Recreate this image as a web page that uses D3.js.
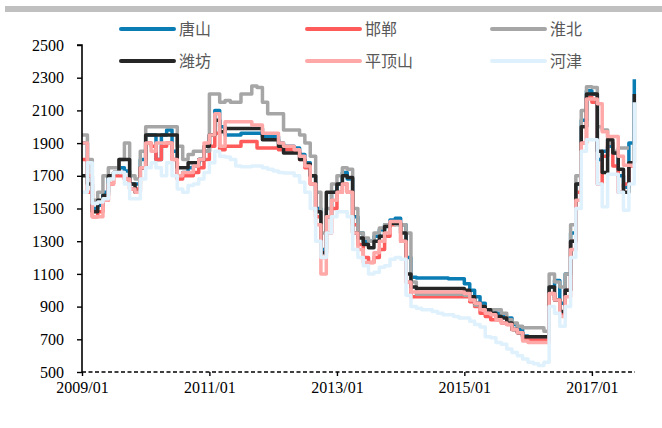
<!DOCTYPE html>
<html>
<head>
<meta charset="utf-8">
<script src="https://cdn.jsdelivr.net/npm/d3@7"></script>
<style>
  body { margin: 0; background: #fff; }
  svg { display: block; }
</style>
</head>
<body>
<div id="chart"></div>
<script>
'use strict';

// monthly prices, first value = 2009/01
const firstMonth = '2009-01';
const seriesNames = ['唐山', '邯郸', '淮北', '潍坊', '平顶山', '河津'];
const seriesColors = ['#0b7db5', '#ff5b5b', '#a6a6a6', '#262626', '#ffa8a8', '#dff1fc'];

const tangshan = [
  1900, 1700, 1500, 1520, 1600, 1700, 1720, 1750, 1730, 1650, 1650, 1800,
  1950, 1950, 1800, 1950, 1980, 1850, 1700, 1720, 1750, 1760, 1800, 1850,
  1950, 2100, 2000, 1950, 1950, 1950, 1960, 1960, 1960, 1960, 1940, 1940,
  1940, 1900, 1880, 1880, 1870, 1830, 1780, 1700, 1500, 1250, 1450, 1600,
  1650, 1720, 1680, 1450, 1350, 1300, 1300, 1330, 1370, 1400, 1430, 1440,
  1400, 1200, 1080, 1075, 1075, 1075, 1075, 1075, 1075, 1070, 1070, 1070,
  1040, 1000, 960, 920, 880, 880, 860, 840, 830, 790, 760, 720,
  715, 715, 715, 715, 1020, 1060, 920, 1100, 1350, 1650, 2040, 2220,
  2200, 1800, 1850, 1880, 1840, 1700, 1630, 1900, 2290
];
const handan = [
  1800, 1600, 1450, 1480, 1550, 1650, 1700, 1700, 1680, 1620, 1620, 1750,
  1900, 1880, 1800, 1880, 1900, 1800, 1680, 1700, 1700, 1720, 1750, 1800,
  1880, 1960, 1860, 1880, 1880, 1880, 1910, 1910, 1910, 1870, 1870, 1870,
  1870, 1860, 1860, 1860, 1850, 1800, 1750, 1650, 1450, 1200, 1350, 1500,
  1600, 1650, 1600, 1400, 1280, 1200, 1170, 1200, 1250, 1330, 1400, 1410,
  1300, 1050, 960, 960, 960, 960, 960, 960, 960, 960, 960, 960,
  960, 930, 900, 860, 840, 820, 820, 800, 790, 760, 740, 700,
  695, 695, 695, 695, 980, 940, 860, 1000, 1300, 1600, 1900, 2180,
  2150, 1650, 1820, 1900, 1760, 1600, 1650, 1760, 1760
];
const huaibei = [
  1950, 1800, 1550, 1600, 1700, 1750, 1750, 1800, 1900, 1700, 1680, 1850,
  2000, 2000, 2000, 2000, 2000, 2000, 1880, 1800, 1830, 1850, 1850, 1850,
  2200, 2200, 2150, 2160, 2150, 2150, 2200, 2200, 2250, 2240, 2150, 2080,
  2080, 2080, 1980, 1980, 1980, 1950, 1900, 1820, 1600, 1350, 1500, 1650,
  1700, 1750, 1740, 1500, 1350, 1320, 1300, 1350, 1380, 1400, 1410, 1400,
  1400, 1350, 1050, 975, 975, 975, 975, 975, 975, 975, 975, 975,
  970, 950, 910, 900, 880, 880, 880, 860, 820, 800, 780, 770,
  770, 770, 770, 750, 1100, 1050, 1020, 1100, 1400, 1700, 2100, 2245,
  2240, 2000, 1980, 1900, 1850, 1870, 1870, 1870, null
];
const weifang = [
  1700, 1650, 1480, 1550, 1580, 1700, 1720, 1800, 1800, 1650, 1600, 1750,
  1950, 1950, 1950, 1950, 1950, 1950, 1750, 1750, 1780, 1780, 1800, 1880,
  1950, 2040, 1970, 1990, 1990, 1990, 1990, 1990, 1990, 1990, 1920, 1920,
  1920, 1880, 1840, 1840, 1840, 1800, 1770, 1700, 1480, 1230, 1600, 1600,
  1650, 1700, 1690, 1350, 1320, 1280, 1260, 1300, 1330, 1390, 1410, 1410,
  1350, 1100, 1020, 1010, 1010, 1010, 1010, 1010, 1010, 1010, 1010, 1010,
  1000, 960, 920, 900, 880, 860, 840, 830, 800, 760, 740, 715,
  715, 715, 715, 715, 1020, 940, 870, 1000, 1300, 1650, 2000, 2200,
  2200, 1850, 1720, 1920, 1840, 1740, 1600, 1780, 2200
];
const pingdingshan = [
  1900, 1700, 1450, 1450, 1550, 1650, 1720, 1720, 1680, 1620, 1600, 1750,
  1900, 1850, 1900, 1900, 1900, 1800, 1700, 1720, 1720, 1760, 1800, 1900,
  1950, 2080, 1880, 2030, 2030, 2030, 2030, 2030, 2010, 2010, 1960, 1960,
  1960, 1900, 1880, 1880, 1860, 1820, 1760, 1650, 1400, 1100, 1450, 1550,
  1600, 1650, 1600, 1350, 1250, 1170, 1170, 1230, 1300, 1350, 1420, 1420,
  1300, 1050, 990, 990, 990, 990, 990, 990, 990, 990, 990, 990,
  980, 940, 920, 880, 860, 850, 820, 800, 790, 760, 740, 690,
  680, 680, 680, 680, 980, 940, 840, 960, 1250, 1550, 1900, 2170,
  2170, 2140, 1970, 1940, 1940, 1820, 1765, 1765, 1765
];
const hejin = [
  1600, 1780, 1530, 1540, 1560, 1680, 1720, 1720, 1650, 1560, 1560, 1680,
  1750, 1780, 1750, 1700, 1780, 1700, 1620, 1600, 1640, 1650, 1680, 1720,
  1780, 1850, 1820, 1815, 1800, 1760, 1755, 1755, 1760, 1760, 1750, 1740,
  1730, 1720, 1717, 1717, 1700, 1660, 1600, 1500, 1300, 1200, 1350, 1450,
  1480, 1480, 1450, 1250, 1200, 1150, 1100, 1110, 1140, 1150, 1190, 1200,
  1190, 970, 900, 890, 880, 880, 870, 860, 850, 850, 840, 830,
  830, 810, 790, 775, 715, 710, 680, 670, 640, 620, 600, 580,
  560, 550, 540, 560, 900, 860, 780, 900, 1200, 1500, 1850, 1920,
  1920, 1650, 1510, 1710, 1710, 1600, 1490, 1650, 2150
];
const seriesValues = [tangshan, handan, huaibei, weifang, pingdingshan, hejin];

const yTicks = [500, 700, 900, 1100, 1300, 1500, 1700, 1900, 2100, 2300, 2500];
const xTickLabels = ['2009/01', '2011/01', '2013/01', '2015/01', '2017/01'];

const width = 662;
const height = 428;
const margin = { top: 45, right: 27, bottom: 56, left: 82 };

const parseMonth = d3.timeParse('%Y-%m');
const fmtTick = d3.timeFormat('%Y/%m');
const months = d3.timeMonth.range(parseMonth(firstMonth), d3.timeMonth.offset(parseMonth(firstMonth), tangshan.length));

const svg = d3.select('#chart').append('svg')
  .attr('width', width)
  .attr('height', height);

// grey band at the very top
svg.append('rect')
  .attr('x', 5).attr('y', 6)
  .attr('width', width - 5).attr('height', 6)
  .attr('fill', '#c0c0c0');

const x = d3.scaleTime()
  .domain([parseMonth('2009-01'), new Date(2017, 8, 5)])
  .range([margin.left, width - margin.right]);

const y = d3.scaleLinear()
  .domain([500, 2500])
  .range([height - margin.bottom, margin.top]);

// lines
const line = d3.line()
  .defined(d => d.v != null)
  .x(d => x(d.date))
  .y(d => y(d.v))
  .curve(d3.curveStepAfter);

const plot = svg.append('g').attr('class', 'lines');
seriesValues.forEach(function(vals, i) {
  const pts = vals.map((v, j) => ({ date: months[j], v: v }));
  plot.append('path')
    .datum(pts)
    .attr('fill', 'none')
    .attr('stroke', seriesColors[i])
    .attr('stroke-width', 3.5)
    .attr('stroke-linejoin', 'round')
    .attr('d', line);
});

// y axis
const yAxis = svg.append('g')
  .attr('transform', `translate(${margin.left},0)`)
  .call(d3.axisLeft(y).tickValues(yTicks).tickSize(5).tickPadding(13).tickFormat(d3.format('d')));
yAxis.select('.domain').attr('stroke', '#000').attr('stroke-width', 1.6).attr('d', `M-5,${y(2500)}H0V${y(500)}`);
yAxis.selectAll('.tick line').attr('stroke', '#000').attr('stroke-width', 1.4);
yAxis.selectAll('text')
  .style('font-family', '"Liberation Serif", "Times New Roman", serif')
  .style('font-size', '16px')
  .attr('fill', '#000');

// x axis (dashed baseline)
const xTickDates = xTickLabels.map(s => d3.timeParse('%Y/%m')(s));
const xAxis = svg.append('g')
  .attr('transform', `translate(0,${y(500)})`)
  .call(d3.axisBottom(x).tickValues(xTickDates).tickSize(4).tickPadding(6).tickFormat(fmtTick));
xAxis.select('.domain')
  .attr('stroke', '#000')
  .attr('stroke-width', 1.6)
  .attr('stroke-dasharray', '4,2.5')
  .attr('d', `M${x.range()[0]},0H${x.range()[1]}`);
xAxis.selectAll('.tick line').attr('stroke', '#000').attr('stroke-width', 1.4);
xAxis.selectAll('text')
  .style('font-family', '"Liberation Serif", "Times New Roman", serif')
  .style('font-size', '16px')
  .attr('fill', '#000');

// legend, 3 columns x 2 rows
const legendX = [121, 307, 492];
const legendY = [29, 61];
const legend = svg.append('g').attr('class', 'legend');
const legendItem = legend.selectAll('g')
  .data(seriesNames)
  .enter().append('g')
  .attr('transform', (d, i) => `translate(${legendX[i % 3]},${legendY[Math.floor(i / 3)]})`);

legendItem.append('line')
  .attr('x1', 0).attr('x2', 53)
  .attr('y1', 0).attr('y2', 0)
  .attr('stroke', (d, i) => seriesColors[i])
  .attr('stroke-width', 4)
  .attr('stroke-linecap', 'round');

legendItem.append('text')
  .attr('x', 58)
  .attr('dy', '0.36em')
  .style('font-family', '"Noto Sans CJK SC", "Noto Sans", sans-serif')
  .style('font-size', '16px')
  .attr('fill', '#595959')
  .text(d => d);
</script>
</body>
</html>
